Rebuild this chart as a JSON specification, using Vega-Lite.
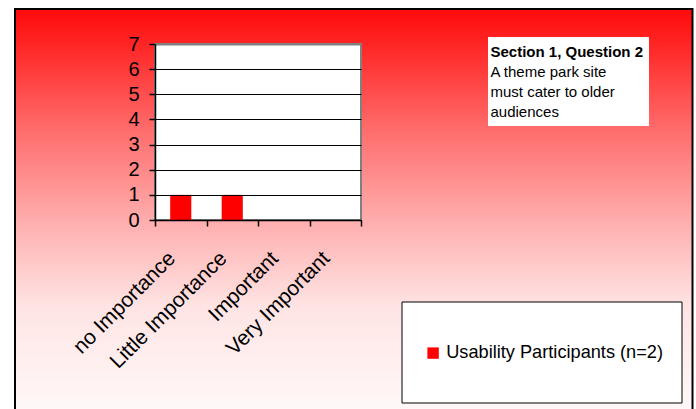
{
  "$schema": "https://vega.github.io/schema/vega-lite/v6.json",
  "autosize": "none",
  "width": 206,
  "height": 176,
  "padding": {"left": 155, "top": 44, "right": 335, "bottom": 189},
  "background": "white",
  "config": {
    "view": {"stroke": null},
    "font": "Liberation Sans"
  },
  "layer": [
    {
      "data": {"values": [{}]},
      "mark": {
        "type": "rect",
        "stroke": "black",
        "strokeWidth": 2,
        "fill": {
          "gradient": "linear",
          "x1": 0, "y1": 0, "x2": 0, "y2": 1,
          "stops": [
            {"offset": 0, "color": "#ff0a0a"},
            {"offset": 0.1, "color": "#ff2a2a"},
            {"offset": 0.3, "color": "#ff6e6e"},
            {"offset": 0.526, "color": "#ffb0b0"},
            {"offset": 0.726, "color": "#ffe4e4"},
            {"offset": 1, "color": "#fffafa"}
          ]
        }
      },
      "encoding": {
        "x": {"value": -140},
        "x2": {"value": 537.5},
        "y": {"value": -35},
        "y2": {"value": 375}
      }
    },
    {
      "data": {"values": [{}]},
      "mark": {"type": "rect", "fill": "white", "stroke": "#808080", "strokeWidth": 2},
      "encoding": {
        "x": {"value": 0},
        "x2": {"value": "width"},
        "y": {"value": 0},
        "y2": {"value": "height"}
      }
    },
    {
      "data": {
        "values": [
          {"importance": "no Importance", "count": 1, "series": "Usability Participants (n=2)"},
          {"importance": "Little Importance", "count": 1, "series": "Usability Participants (n=2)"},
          {"importance": "Important", "count": 0, "series": "Usability Participants (n=2)"},
          {"importance": "Very Important", "count": 0, "series": "Usability Participants (n=2)"}
        ]
      },
      "mark": {"type": "bar", "width": {"band": 0.41}},
      "encoding": {
        "x": {
          "field": "importance",
          "type": "nominal",
          "sort": ["no Importance", "Little Importance", "Important", "Very Important"],
          "scale": {"paddingInner": 0, "paddingOuter": 0},
          "axis": {
            "title": null,
            "labelAngle": -45,
            "labelAlign": "right",
            "labelBaseline": "middle",
            "tickBand": "extent",
            "labelOffset": -9,
            "labelPadding": 29,
            "tickSize": 6,
            "tickWidth": 1.5,
            "tickColor": "black",
            "domainColor": "black",
            "domainWidth": 1.5,
            "labelFontSize": 21,
            "labelFont": "Liberation Sans",
            "labelColor": "black",
            "labelLimit": 400,
            "labelOverlap": false,
            "grid": false,
            "zindex": 1
          }
        },
        "y": {
          "field": "count",
          "type": "quantitative",
          "scale": {"domain": [0, 7], "nice": false},
          "axis": {
            "title": null,
            "values": [0, 1, 2, 3, 4, 5, 6, 7],
            "domainColor": "black",
            "domainWidth": 1.5,
            "tickColor": "black",
            "tickSize": 6,
            "tickWidth": 1.5,
            "labelFontSize": 20,
            "labelFont": "Liberation Sans",
            "labelColor": "black",
            "labelPadding": 10,
            "grid": true,
            "gridColor": {"condition": {"test": "datum.value == 7", "value": "#808080"}, "value": "black"},
            "gridWidth": {"condition": {"test": "datum.value == 7", "value": 2}, "value": 1},
            "zindex": 1
          }
        },
        "color": {
          "field": "series",
          "type": "nominal",
          "scale": {"domain": ["Usability Participants (n=2)"], "range": ["#ff0000"]},
          "legend": {
            "orient": "none",
            "legendX": 269,
            "legendY": 300,
            "title": null,
            "symbolType": "square",
            "symbolSize": 130,
            "symbolStrokeWidth": 0,
            "symbolOpacity": 1,
            "labelFontSize": 18.2,
            "labelFont": "Liberation Sans",
            "labelColor": "black",
            "labelOffset": 4,
            "labelLimit": 400,
            "padding": 0
          }
        }
      }
    },
    {
      "data": {"values": [{}]},
      "mark": {"type": "rect", "fill": "white"},
      "encoding": {
        "x": {"value": 333},
        "x2": {"value": 494},
        "y": {"value": -7},
        "y2": {"value": 82}
      }
    },
    {
      "data": {"values": [{}]},
      "mark": {
        "type": "text",
        "align": "left",
        "baseline": "alphabetic",
        "fontSize": 15,
        "fontWeight": "bold",
        "font": "Liberation Sans",
        "color": "black",
        "text": "Section 1, Question 2"
      },
      "encoding": {"x": {"value": 335.5}, "y": {"value": 12.5}}
    },
    {
      "data": {"values": [{}]},
      "mark": {
        "type": "text",
        "align": "left",
        "baseline": "alphabetic",
        "fontSize": 15,
        "font": "Liberation Sans",
        "color": "black",
        "lineHeight": 20,
        "text": ["A theme park site", "must cater to older", "audiences"]
      },
      "encoding": {"x": {"value": 335.5}, "y": {"value": 33}}
    },
    {
      "data": {"values": [{}]},
      "mark": {"type": "rect", "fill": "white", "stroke": "black", "strokeWidth": 1},
      "encoding": {
        "x": {"value": 247},
        "x2": {"value": 527},
        "y": {"value": 258},
        "y2": {"value": 359}
      }
    }
  ]
}
